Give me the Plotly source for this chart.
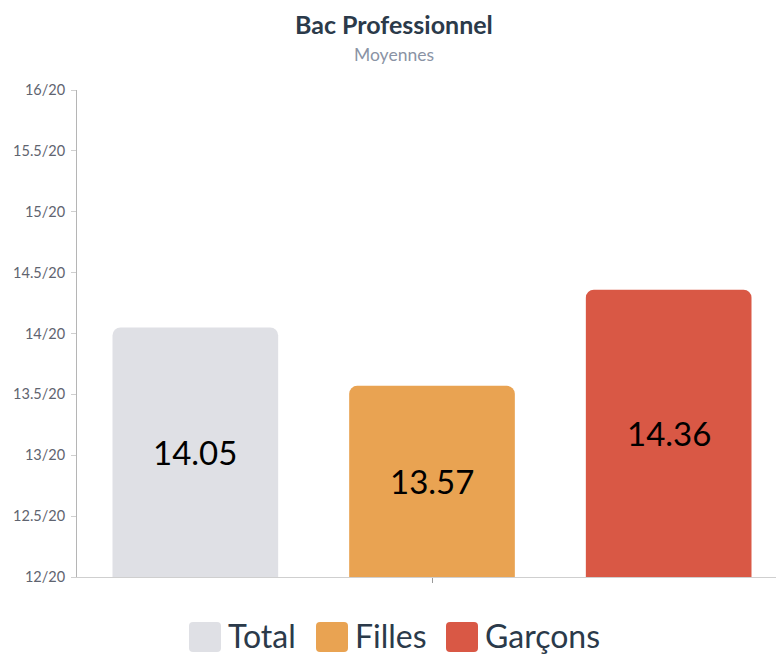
import plotly.graph_objects as go

# Series and values
series = ["Total", "Filles", "Garçons"]
values = [14.05, 13.57, 14.36]
colors = ["#dfe0e5", "#e9a352", "#d95845"]
category = ["Bac Professionnel"]

# Y axis ticks (marks out of 20)
y_ticks = [12, 12.5, 13, 13.5, 14, 14.5, 15, 15.5, 16]
y_tick_labels = [f"{v:g}/20" for v in y_ticks]
y_min, y_max = 12, 16

W, H = 776, 655
ML, MR, MT, MB = 77, 0, 90, 78
plot_w = W - ML - MR
plot_h = H - MT - MB
x_range = [-0.5, 0.4845]
unit_px = plot_w / (x_range[1] - x_range[0])

FONT = "Lato, 'Open Sans', sans-serif"
TEXT_DARK = "#2b3a4a"

fig = go.Figure()
for name, v, c in zip(series, values, colors):
    fig.add_trace(go.Bar(
        name=name,
        x=category,
        y=[v],
        marker=dict(color=c, line=dict(width=0)),
        showlegend=False,
        hovertemplate=f"{name}: {v:.2f}<extra></extra>",
    ))


def px_to_paper_x(px):
    return (px - ML) / plot_w


def px_to_paper_y(py):
    return (H - MB - py) / plot_h


annotations = [
    dict(text="<b>Bac Professionnel</b>", x=px_to_paper_x(394), y=px_to_paper_y(24),
         xref="paper", yref="paper", showarrow=False, xanchor="center", yanchor="middle",
         font=dict(family=FONT, size=25, color=TEXT_DARK)),
    dict(text="Moyennes", x=px_to_paper_x(394), y=px_to_paper_y(55),
         xref="paper", yref="paper", showarrow=False, xanchor="center", yanchor="middle",
         font=dict(family=FONT, size=17.5, color="#8a93a5")),
]

# Value labels centred in the visible part of each bar
n = len(series)
for i, v in enumerate(values):
    annotations.append(dict(
        text=f"{v:.2f}", x=category[0], y=(y_min + v) / 2, xref="x", yref="y",
        xshift=(i - (n - 1) / 2) * unit_px / n, showarrow=False,
        xanchor="center", yanchor="middle",
        font=dict(family=FONT, size=33, color="#000000"),
    ))

# Custom legend with large rounded swatches
shapes = []
legend_x = [189, 316, 446]
sw, sh, r = 32, 30, 4
for name, c, lx in zip(series, colors, legend_x):
    cx = lx + sw / 2
    hw, hh = sw / 2, sh / 2
    path = (f"M{-hw + r},{-hh} L{hw - r},{-hh} Q{hw},{-hh} {hw},{-hh + r} "
            f"L{hw},{hh - r} Q{hw},{hh} {hw - r},{hh} L{-hw + r},{hh} "
            f"Q{-hw},{hh} {-hw},{hh - r} L{-hw},{-hh + r} Q{-hw},{-hh} {-hw + r},{-hh} Z")
    shapes.append(dict(type="path", xref="paper", yref="paper",
                       xsizemode="pixel", ysizemode="pixel",
                       xanchor=px_to_paper_x(cx), yanchor=px_to_paper_y(637),
                       path=path, fillcolor=c, line=dict(width=0)))
    annotations.append(dict(text=name, x=px_to_paper_x(lx + sw + 5), y=px_to_paper_y(635),
                            xref="paper", yref="paper", showarrow=False,
                            xanchor="left", yanchor="middle",
                            font=dict(family=FONT, size=32, color=TEXT_DARK)))

fig.update_layout(
    width=W, height=H,
    margin=dict(l=ML, r=MR, t=MT, b=MB, pad=0),
    paper_bgcolor="#ffffff", plot_bgcolor="#ffffff",
    barmode="group", bargap=0, bargroupgap=0.3, barcornerradius=8,
    showlegend=False,
    annotations=annotations,
    shapes=shapes,
    font=dict(family=FONT),
)
fig.update_xaxes(
    type="category", range=x_range, showticklabels=False,
    ticks="outside", ticklen=5, tickcolor="#9a9a9a", tickwidth=1,
    showline=True, linecolor="#cfcfcf", linewidth=1, showgrid=False, zeroline=False,
    fixedrange=True,
)
fig.update_yaxes(
    range=[y_min, y_max], tickvals=y_ticks, ticktext=y_tick_labels,
    ticks="outside", ticklen=5, tickcolor="#cfcfcf", tickwidth=1,
    ticklabelstandoff=3,
    showline=True, linecolor="#b5b5b5", linewidth=1, showgrid=False, zeroline=False,
    tickfont=dict(family=FONT, size=14.5, color="#5f6470"),
    fixedrange=True,
)

fig.write_html("out.html")
